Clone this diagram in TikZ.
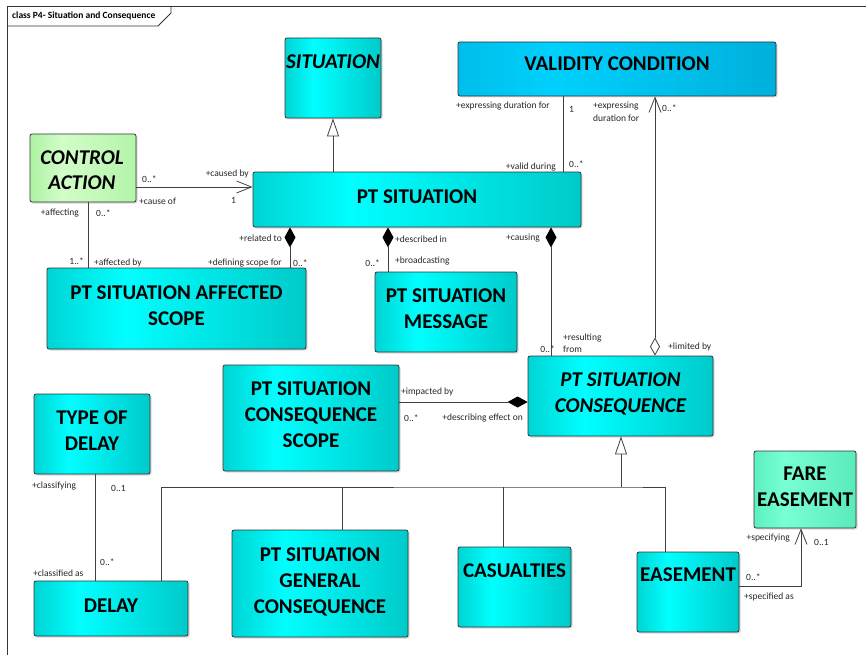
\documentclass[tikz,border=0pt]{standalone}
\usepackage{fontspec}
\setmainfont{Carlito}
\usetikzlibrary{arrows.meta,shadows}
\definecolor{cyanD}{RGB}{0,212,212}
\definecolor{cyanL}{RGB}{0,255,255}
\definecolor{cyanR}{RGB}{0,202,202}
\definecolor{blueD}{RGB}{0,190,235}
\definecolor{blueL}{RGB}{0,208,252}
\definecolor{blueR}{RGB}{0,176,220}
\definecolor{greenD}{RGB}{172,242,162}
\definecolor{greenL}{RGB}{210,253,200}
\definecolor{greenR}{RGB}{180,244,170}
\definecolor{mintD}{RGB}{92,240,192}
\definecolor{mintL}{RGB}{120,255,212}
\definecolor{mintR}{RGB}{90,234,188}
\pgfdeclarehorizontalshading{cyanshade}{100bp}{color(0bp)=(cyanD); color(25bp)=(cyanD); color(40bp)=(cyanL); color(75bp)=(cyanR); color(100bp)=(cyanR)}
\pgfdeclarehorizontalshading{blueshade}{100bp}{color(0bp)=(blueD); color(25bp)=(blueD); color(40bp)=(blueL); color(75bp)=(blueR); color(100bp)=(blueR)}
\pgfdeclarehorizontalshading{greenshade}{100bp}{color(0bp)=(greenD); color(25bp)=(greenD); color(40bp)=(greenL); color(75bp)=(greenR); color(100bp)=(greenR)}
\pgfdeclarehorizontalshading{mintshade}{100bp}{color(0bp)=(mintD); color(25bp)=(mintD); color(40bp)=(mintL); color(75bp)=(mintR); color(100bp)=(mintR)}
\begin{document}
\begin{tikzpicture}[x=1pt,y=-1pt,
    cls/.style={draw=black!80, line width=0.8pt, rounded corners=2pt, shading=cyanshade,
      drop shadow={shadow xshift=1.5pt, shadow yshift=-1.5pt, opacity=0.3},
      font=\fontsize{21}{26}\selectfont\bfseries, align=center, inner sep=0pt, text depth=6pt},
    validcls/.style={cls, shading=blueshade, text depth=10pt},
    ctrlcls/.style={cls, shading=greenshade},
    farecls/.style={cls, shading=mintshade},
    clsname/.style={font=\fontsize{21}{26}\selectfont\bfseries, align=center, inner sep=0pt},
    lbl/.style={font=\fontsize{9.5}{12.5}\selectfont, text=black!85, inner sep=0pt},
    comp/.style={-{Diamond[length=20pt,width=11pt,black]}},
    gen/.style={-{Triangle[open,length=18pt,width=12pt,fill=white]}},
    nav/.style={-{Straight Barb[length=15pt,width=12pt]}}]
\useasboundingbox (0,0) rectangle (866,655);
\draw[black!80, line width=0.8pt] (866,6) -- (7,6) -- (7,655);
\draw[black!80, line width=0.8pt] (7,26) -- (158,26) -- (171,13) -- (171,6);
\node[anchor=west, font=\fontsize{9.5}{11}\selectfont\bfseries, inner sep=0pt] (title) at (12,16) {class P4- Situation and Consequence};

\node[cls, minimum width=96pt, minimum height=80pt] (sit) at (333,78) {};
\node[clsname, font=\fontsize{21}{26}\selectfont\bfseries\itshape] (sit-name) at (333,62) {SITUATION};
\node[ctrlcls, minimum width=106pt, minimum height=68pt] (ctrl) at (83,168) {};
\node[clsname, font=\fontsize{21}{25}\selectfont\bfseries\itshape] (ctrl-name) at (82,170.5) {CONTROL\\ACTION};
\node[cls, minimum width=328pt, minimum height=55pt] (pts) at (417,199.5) {PT SITUATION};
\node[validcls, minimum width=318pt, minimum height=54pt] (valid) at (617,69) {VALIDITY CONDITION};
\node[cls, minimum width=259pt, minimum height=81pt] (aff) at (176.5,308.5) {PT SITUATION AFFECTED\\SCOPE};
\node[cls, minimum width=142pt, minimum height=80pt] (msg) at (446,312) {PT SITUATION\\MESSAGE};
\node[cls, minimum width=185pt, minimum height=80pt, font=\fontsize{21}{26}\selectfont\bfseries\itshape] (cons) at (620.5,396) {PT SITUATION\\CONSEQUENCE};
\node[cls, minimum width=176pt, minimum height=106pt] (scope) at (311,418) {PT SITUATION\\CONSEQUENCE\\SCOPE};
\node[cls, minimum width=116pt, minimum height=80pt] (tod) at (92,434) {TYPE OF\\DELAY};
\node[cls, minimum width=154pt, minimum height=55pt] (delay) at (111,608.5) {DELAY};
\node[cls, minimum width=176pt, minimum height=107pt] (gen) at (320,583.5) {PT SITUATION\\GENERAL\\CONSEQUENCE};
\node[cls, minimum width=113pt, minimum height=80pt] (cas) at (514.5,587) {};
\node[clsname] (cas-name) at (514.5,571) {CASUALTIES};
\node[cls, minimum width=102pt, minimum height=80pt] (ease) at (688,592) {};
\node[clsname] (ease-name) at (688,575) {EASEMENT};
\node[farecls, minimum width=102pt, minimum height=77pt] (fare) at (805,489.5) {FARE\\EASEMENT};

\coordinate (bus) at (621,487);
\begin{scope}[draw=black!75, line width=0.8pt]
    \draw[gen] (pts.north -| sit.south) -- (sit.south);
    \draw[nav] (ctrl.east |- 0,187) -- (pts.west |- 0,187);
    \draw (ctrl.south -| 88,0) -- (aff.north -| 88,0);
    \draw[comp] (aff.north -| 290,0) -- (pts.south -| 290,0);
    \draw[comp] (msg.north -| 388,0) -- (pts.south -| 388,0);
    \draw[comp] (cons.north -| 551,0) -- (pts.south -| 551,0);
    \draw (valid.south -| 563,0) -- (pts.north -| 563,0);
    \draw[{Diamond[open,length=18pt,width=10pt,fill=white]}-{Straight Barb[length=15pt,width=12pt]}] (cons.north -| 655,0) -- (valid.south -| 655,0);
    \draw[comp] (scope.east |- 0,402) -- (cons.west |- 0,402);
    \draw[gen] (bus) -- (cons.south -| bus);
    \draw (delay.north -| 161,0) |- (bus) -| (ease.north -| 665,0);
    \draw (gen.north -| 342,0) -- (342,0 |- bus);
    \draw (cas.north -| 503,0) -- (503,0 |- bus);
    \draw (tod.south -| 95,0) -- (delay.north -| 95,0);
    \draw[nav] (ease.east |- 0,586) -| (fare.south -| 801,0);
\end{scope}

\node[lbl, anchor=west] (ctrl-m1) at (142,179) {0..*};
\node[lbl, anchor=east] (pts-r1) at (249,174) {+caused by};
\node[lbl, anchor=west] (ctrl-r1) at (139,201) {+cause of};
\node[lbl, anchor=west] (pts-m1) at (231,200) {1};
\node[lbl, anchor=east] (ctrl-r2) at (79,213) {+affecting};
\node[lbl, anchor=west] (ctrl-m2) at (96,213) {0..*};
\node[lbl, anchor=east] (aff-m1) at (84,261) {1..*};
\node[lbl, anchor=west] (aff-r1) at (94,263) {+affected by};
\node[lbl, anchor=east] (pts-r2) at (282,238) {+related to};
\node[lbl, anchor=east] (aff-r2) at (282,263) {+defining scope for};
\node[lbl, anchor=west] (aff-m2) at (293,263) {0..*};
\node[lbl, anchor=east] (msg-m) at (380,263) {0..*};
\node[lbl, anchor=west] (pts-r3) at (395,239) {+described in};
\node[lbl, anchor=west] (msg-r) at (395,261) {+broadcasting};
\node[lbl, anchor=east] (valid-r1) at (550,106) {+expressing duration for};
\node[lbl, anchor=west] (valid-m1) at (569,109) {1};
\node[lbl, anchor=west, align=left] (valid-r2) at (593,112) {+expressing\\duration for};
\node[lbl, anchor=west] (valid-m2) at (662,108) {0..*};
\node[lbl, anchor=east] (pts-r4) at (556,167) {+valid during};
\node[lbl, anchor=west] (pts-m2) at (569,164) {0..*};
\node[lbl, anchor=east] (pts-r5) at (540,238) {+causing};
\node[lbl, anchor=west, align=left, font=\fontsize{9.5}{12}\selectfont] (cons-r1) at (563,343) {+resulting\\from};
\node[lbl, anchor=east] (cons-m1) at (555,349) {0..*};
\node[lbl, anchor=west] (cons-r2) at (668,347) {+limited by};
\node[lbl, anchor=west] (scope-r) at (401,392) {+impacted by};
\node[lbl, anchor=west] (scope-m) at (404,418) {0..*};
\node[lbl, anchor=east] (cons-r3) at (523,418) {+describing effect on};
\node[lbl, anchor=west] (tod-r) at (32,486) {+classifying};
\node[lbl, anchor=west] (tod-m) at (111,488) {0..1};
\node[lbl, anchor=west] (delay-m) at (100,562) {0..*};
\node[lbl, anchor=west] (delay-r) at (33,573) {+classified as};
\node[lbl, anchor=east] (fare-r) at (790,538) {+specifying};
\node[lbl, anchor=west] (fare-m) at (814,542) {0..1};
\node[lbl, anchor=west] (ease-m) at (746,577) {0..*};
\node[lbl, anchor=west] (ease-r) at (744,597) {+specified as};
\end{tikzpicture}
\end{document}
